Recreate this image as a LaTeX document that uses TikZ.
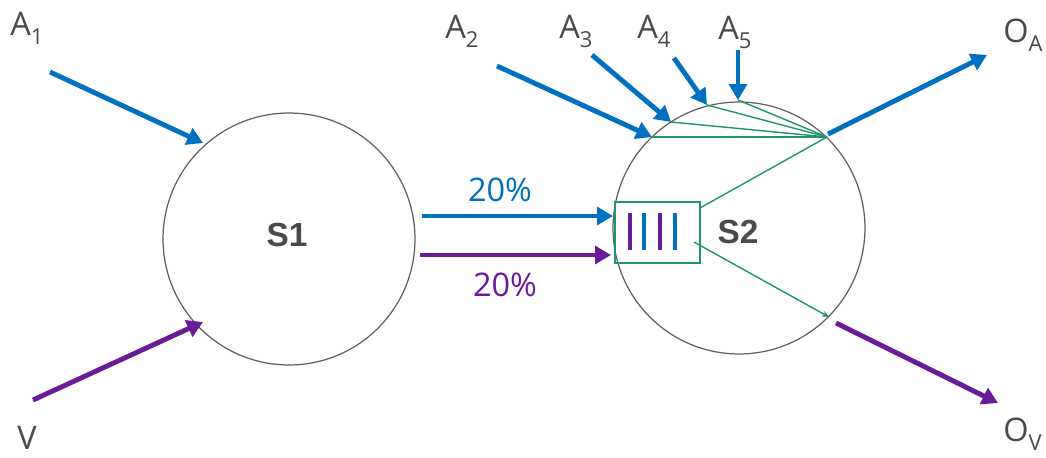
\documentclass[tikz,border=0pt]{standalone}
\usepackage{fontspec}
\setmainfont{Open Sans}
\newfontfamily\boldsans{Liberation Sans}
\usetikzlibrary{arrows.meta}
\definecolor{cblue}{HTML}{0070C0}
\definecolor{cpurple}{HTML}{6A1B9A}
\definecolor{cgreen}{HTML}{1E9470}
\definecolor{cgray}{HTML}{4A4A4A}
\definecolor{ccirc}{HTML}{606060}
\newcommand\mysub[1]{\raisebox{-0.3em}{\fontsize{12.5}{14}\selectfont #1}}
\tikzset{
  bigarrow/.style={line width=2.8pt, -{Triangle[length=9pt,width=10pt]}},
  greenline/.style={cgreen, line width=0.8pt},
  greenarrow/.style={cgreen, line width=0.8pt, -{Stealth[length=4pt,width=3.5pt]}},
  lbl/.style={text=cgray, font=\fontsize{18.5}{20}\selectfont, inner sep=0pt, anchor=base west},
  pct/.style={font=\fontsize{18.5}{20}\selectfont, inner sep=0pt},
  stage/.style={circle, draw=ccirc, line width=0.7pt, minimum size=5.04cm, inner sep=0pt},
  stlabel/.style={text=cgray, font=\boldsans\bfseries\fontsize{19}{21}\selectfont, inner sep=0pt},
  bar/.style={line width=2.2pt}
}
\begin{document}
\begin{tikzpicture}[x=0.02cm, y=-0.02cm]
\useasboundingbox (0,0) rectangle (1046,457);
% circles
\node[stage] (s1) at (289,239) {};
\node[stage] (s2) at (739,228) {};
\node[stlabel] (s1l) at (287,235) {S1};
\node[stlabel] (s2l) at (738,232) {S2};
% box
\node[draw=cgreen, line width=0.8pt, minimum width=1.7cm, minimum height=1.22cm, inner sep=0pt] (box) at (657.5,232.5) {};
\coordinate (b1t) at (630,213); \coordinate (b1b) at (630,250);
\coordinate (b2t) at (644,213); \coordinate (b2b) at (644,250);
\coordinate (b3t) at (660,213); \coordinate (b3b) at (660,250);
\coordinate (b4t) at (675,213); \coordinate (b4b) at (675,250);
\draw[bar, cpurple] (b1t) -- (b1b);
\draw[bar, cblue] (b2t) -- (b2b);
\draw[bar, cpurple] (b3t) -- (b3b);
\draw[bar, cblue] (b4t) -- (b4b);
% labels
\node[lbl] (a1) at (10,35) {A\mysub{1}};
\node[lbl] (v) at (17,449) {V};
\node[lbl] (a2) at (445,38) {A\mysub{2}};
\node[lbl] (a3) at (559,38) {A\mysub{3}};
\node[lbl] (a4) at (637,38) {A\mysub{4}};
\node[lbl] (a5) at (718,39) {A\mysub{5}};
\node[lbl] (oa) at (1003,42) {O\mysub{A}};
\node[lbl] (ov) at (1003,441) {O\mysub{V}};
\node[pct, text=cblue] (p1) at (500,190) {20\%};
\node[pct, text=cpurple] (p2) at (505,285) {20\%};
% coordinates
\coordinate (a1s) at (50,72); \coordinate (a1e) at (203,143);
\coordinate (vs) at (33,400); \coordinate (ve) at (203,322);
\coordinate (bls) at (422,216); \coordinate (ble) at (613,216);
\coordinate (pls) at (420,255); \coordinate (ple) at (611,255);
\coordinate (a2s) at (497,66); \coordinate (a2e) at (652,137);
\coordinate (a3s) at (592,55); \coordinate (a3e) at (671,122);
\coordinate (a4s) at (674,58); \coordinate (a4e) at (707,105);
\coordinate (a5s) at (738,50); \coordinate (a5e) at (738,100);
\coordinate (hub) at (827,137);
\coordinate (boxtr) at (700,208);
\coordinate (boxbr) at (694,242);
\coordinate (lowpt) at (829,317);
\coordinate (oas) at (828,134); \coordinate (oae) at (987,55);
\coordinate (ovs) at (836,323); \coordinate (ove) at (998,403);
% green lines
\draw[greenline] (a2e) -- (hub);
\draw[greenline] (a3e) -- (hub);
\draw[greenline] (a4e) -- (hub);
\draw[greenline] (a5e) -- (hub);
\draw[greenline] (boxtr) -- (hub);
\draw[greenarrow] (boxbr) -- (lowpt);
% big arrows
\draw[bigarrow, cblue] (a1s) -- (a1e);
\draw[bigarrow, cpurple] (vs) -- (ve);
\draw[bigarrow, cblue] (bls) -- (ble);
\draw[bigarrow, cpurple] (pls) -- (ple);
\draw[bigarrow, cblue] (a2s) -- (a2e);
\draw[bigarrow, cblue] (a3s) -- (a3e);
\draw[bigarrow, cblue] (a4s) -- (a4e);
\draw[bigarrow, cblue] (a5s) -- (a5e);
\draw[bigarrow, cblue] (oas) -- (oae);
\draw[bigarrow, cpurple] (ovs) -- (ove);
\end{tikzpicture}
\end{document}
